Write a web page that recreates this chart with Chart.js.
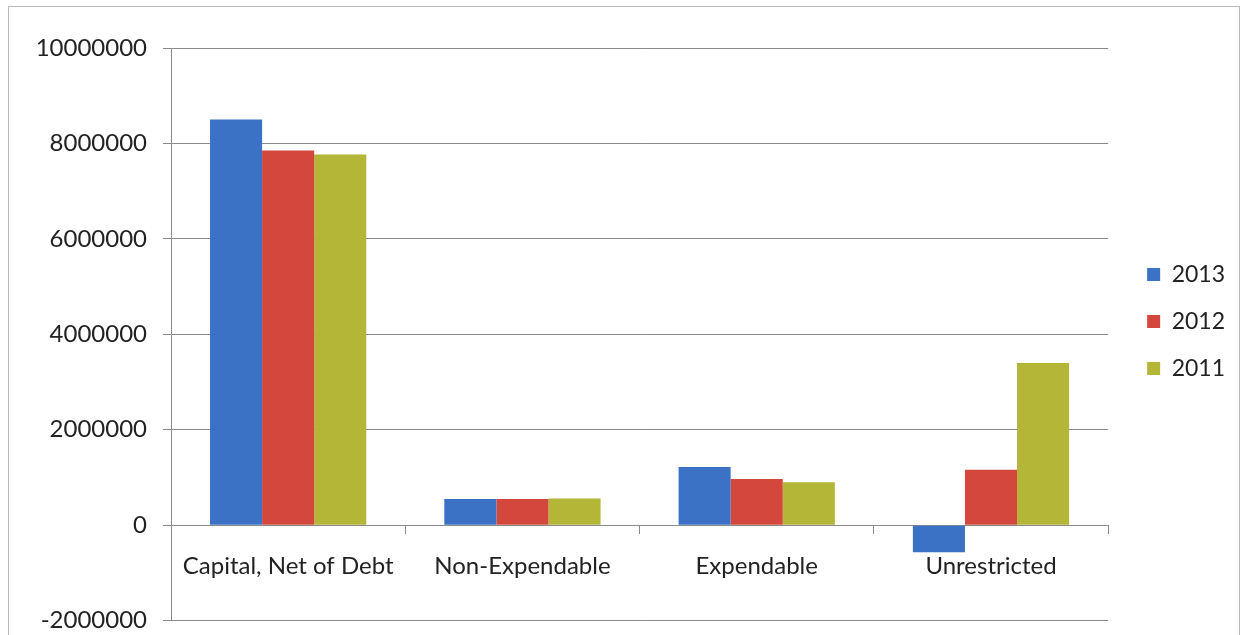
<!DOCTYPE html>
<html>
<head>
<meta charset="utf-8">
<script src="https://cdn.jsdelivr.net/npm/chart.js@4/dist/chart.umd.min.js"></script>
<style>
  html, body { margin: 0; padding: 0; background: #fff; overflow: hidden; }
  #wrap { position: relative; width: 1244px; height: 635px; overflow: hidden; }
  #frame { position: absolute; left: 8px; top: 6px; width: 1232px; height: 640px; border: 1px solid #b8b8b8; box-sizing: border-box; }
  #c { position: absolute; left: 0; top: 0; }
</style>
</head>
<body>
<div id="wrap">
  <div id="frame"></div>
  <canvas id="c" width="1244" height="651"></canvas>
</div>
<script>
// categories and series
var categories = ['Capital, Net of Debt', 'Non-Expendable', 'Expendable', 'Unrestricted'];
var years = ['2013', '2012', '2011'];
var values2013 = [8500000, 550000, 1220000, -570000];
var values2012 = [7850000, 550000, 970000, 1160000];
var values2011 = [7770000, 560000, 900000, 3400000];
var colors = ['#3b72c6', '#d4473c', '#b4b637'];

var yMin = -2000000, yMax = 10000000, yStep = 2000000;
var font = "Lato, 'Open Sans', sans-serif";

// nudge the legend to where the original has it
var legendShift = {
    id: 'legendShift',
    afterLayout: function(chart) {
        var l = chart.legend;
        l.left += 15; l.right += 15;
        l.top -= 28; l.bottom -= 28;
    }
};

var c = new Chart(document.getElementById('c'), {
    type: 'bar',
    data: {
        labels: categories,
        datasets: [
            { label: years[0], data: values2013, backgroundColor: colors[0] },
            { label: years[1], data: values2012, backgroundColor: colors[1] },
            { label: years[2], data: values2011, backgroundColor: colors[2] }
        ]
    },
    options: {
        responsive: false,
        animation: false,
        devicePixelRatio: 1,
        layout: { padding: { left: 0, top: 48, right: 24, bottom: 0 } },
        datasets: { bar: { categoryPercentage: 0.667, barPercentage: 1.0 } },
        scales: {
            x: {
                position: { y: 0 },
                grid: { drawOnChartArea: false, drawTicks: true, tickLength: 8, color: '#8a8a8a', offset: true },
                border: { display: true, color: '#8a8a8a', width: 1 },
                ticks: { color: '#222', font: { family: font, size: 24 }, padding: 19, maxRotation: 0, autoSkip: false }
            },
            y: {
                min: yMin, max: yMax,
                grid: { color: '#8a8a8a', tickLength: 8, lineWidth: 1 },
                border: { display: true, color: '#8a8a8a' },
                ticks: {
                    stepSize: yStep, color: '#222', font: { family: font, size: 24 }, padding: 16,
                    callback: function(v) { return String(v); }
                },
                afterFit: function(s) { s.width = 171; }
            }
        },
        plugins: {
            legend: {
                position: 'right',
                labels: { boxWidth: 13, boxHeight: 13, padding: 24, color: '#222', font: { family: font, size: 23 } }
            },
            tooltip: { enabled: false }
        }
    },
    plugins: [legendShift]
});
</script>
</body>
</html>
